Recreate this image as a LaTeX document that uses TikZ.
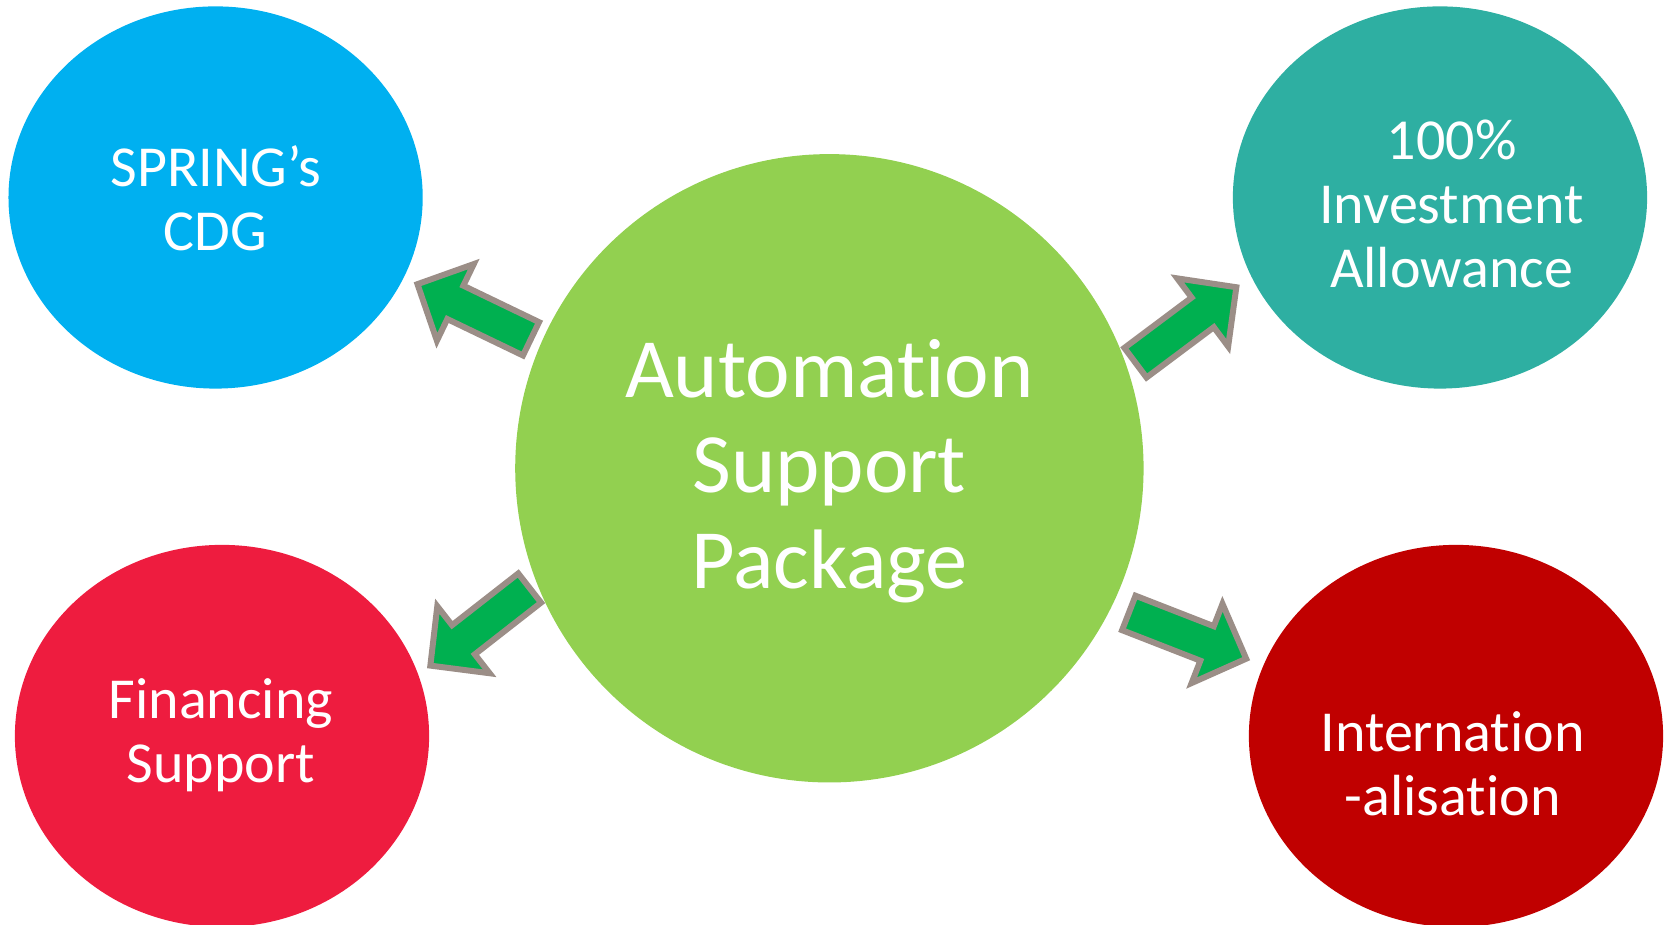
\documentclass[tikz,border=0pt]{standalone}
\usepackage{fontspec}
\setmainfont{Carlito}[Ligatures={NoCommon}]
\usetikzlibrary{shapes.geometric}

\definecolor{cdgblue}{HTML}{00B0F0}
\definecolor{investteal}{HTML}{2EAFA2}
\definecolor{financered}{HTML}{EE1C3F}
\definecolor{intlred}{HTML}{C00000}
\definecolor{coregreen}{HTML}{92D050}
\definecolor{arrowgreen}{HTML}{00B050}
\definecolor{arrowgray}{HTML}{9B8E87}

\tikzset{
  bubble/.style={ellipse, inner sep=0pt, minimum width=4.14cm, minimum height=3.82cm},
  hub/.style={circle, inner sep=0pt, minimum size=6.28cm, fill=coregreen},
  bigtxt/.style={text=white, align=center, inner sep=0pt, font=\fontsize{24}{27.2}\selectfont},
  smalltxt/.style={text=white, align=center, inner sep=0pt, font=\fontsize{16.5}{18.2}\selectfont},
  arrowbody/.style={fill=arrowgreen, draw=arrowgray, line width=1.7pt, line join=miter},
  pics/blockarrow/.style={code={
    \draw[arrowbody] (-63,-18.5) -- (21,-18.5) -- (21,-42.5) -- (63,0)
      -- (21,42.5) -- (21,18.5) -- (-63,18.5) -- cycle;}}
}

\begin{document}
\begin{tikzpicture}[x=0.01cm, y=0.01cm]
  \useasboundingbox (0,0) rectangle (1665,925);
  \clip (0,0) rectangle (1665,925);

  % central hub and the four surrounding bubbles
  \node[hub] (core) at (829.4,456.7) {};
  \node[bubble, fill=cdgblue]    (cdg)     at (215.6,727.5) {};
  \node[bubble, fill=investteal] (invest)  at (1440,727.5) {};
  \node[bubble, fill=financered] (finance) at (222,189) {};
  \node[bubble, fill=intlred]    (intl)    at (1456,189) {};

  % labels
  \node[bigtxt]   (coretxt)    at (829.4,454)   {Automation\\Support\\Package};
  \node[smalltxt] (cdgtxt)     at (215.6,727)   {SPRING’s\\CDG};
  \node[smalltxt] (investtxt)  at (1451.6,720.6) {100\%\\Investment\\Allowance};
  \node[smalltxt] (financetxt) at (221,190)     {Financing\\Support};
  \node[smalltxt] (intltxt)    at (1452.7,161.5) {Internation\\-alisation};

  % block arrows from the hub outwards
  \pic[rotate=154.3] (arrcdg)     at (474.25,613.5) {blockarrow};
  \pic[rotate=36.8]  (arrinvest)  at (1185.9,600)   {blockarrow};
  \pic[rotate=218]   (arrfinance) at (480,298.15)   {blockarrow};
  \pic[rotate=-21.3] (arrintl)    at (1187.5,289.15) {blockarrow};
\end{tikzpicture}
\end{document}
